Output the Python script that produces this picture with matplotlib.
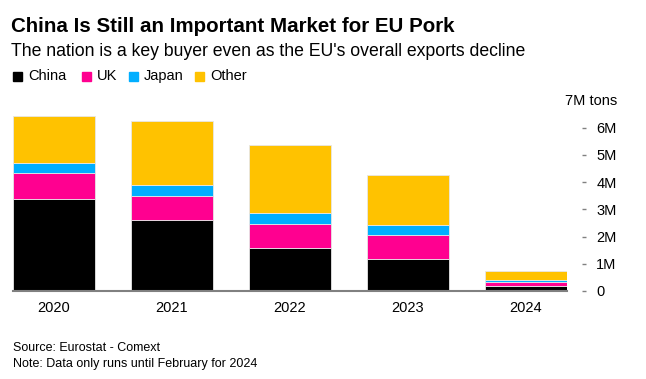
import matplotlib
matplotlib.use("Agg")
import matplotlib.pyplot as plt
from matplotlib.patches import Rectangle

plt.rcParams['font.family'] = ['Liberation Sans', 'DejaVu Sans']

years = ["2020", "2021", "2022", "2023", "2024"]
china = [3.37, 2.60, 1.57, 1.17, 0.195]
uk = [0.96, 0.90, 0.90, 0.90, 0.145]
japan = [0.36, 0.40, 0.40, 0.36, 0.06]
other = [1.74, 2.34, 2.49, 1.83, 0.335]
series_names = ["China", "UK", "Japan", "Other"]
series_colors = ["#000000", "#FF0090", "#00AEFF", "#FFC200"]
y_ticks = [0, 1, 2, 3, 4, 5, 6]
y_ticklabels = ["0", "1M", "2M", "3M", "4M", "5M", "6M"]

W, H = 646, 379
fig = plt.figure(figsize=(W / 100, H / 100), dpi=100)

def fx(px):
    return px / W

def fy(py):
    return 1 - py / H

ax_left, ax_right, ax_bottom, ax_top = 13, 567, 291, 100.6
ax = fig.add_axes([fx(ax_left), fy(ax_bottom), (ax_right - ax_left) / W, (ax_bottom - ax_top) / H])

width = 82 / 118
x = list(range(len(years)))
bottom = [0.0] * len(years)
for vals, name, col in zip([china, uk, japan, other], series_names, series_colors):
    ax.bar(x, vals, width=width, bottom=bottom, color=col, edgecolor="#e6e6e6", linewidth=0.6, label=name)
    bottom = [b + v for b, v in zip(bottom, vals)]

ax.set_xlim(-width / 2, len(years) - 1 + width / 2)
ax.set_ylim(0, 7)
for s in ["top", "left"]:
    ax.spines[s].set_visible(False)
ax.spines["right"].set_position(("outward", 11))
ax.spines["right"].set_visible(False)
ax.spines["bottom"].set_color("#808080")
ax.spines["bottom"].set_linewidth(1.5)
ax.set_xticks(x)
ax.set_xticklabels(years, fontsize=10.5)
ax.tick_params(axis="x", length=0, pad=7)
ax.yaxis.tick_right()
ax.set_yticks(y_ticks)
ax.set_yticklabels(y_ticklabels, fontsize=10.5)
ax.tick_params(axis="y", length=3, width=1, color="#808080", pad=7, direction="out")

fig.text(fx(617), fy(100.6), "7M tons", fontsize=10.5, ha="right", va="center")

fig.text(fx(11), fy(26), "China Is Still an Important Market for EU Pork", fontsize=14.8, fontweight="bold", ha="left", va="center")
fig.text(fx(11), fy(51), "The nation is a key buyer even as the EU's overall exports decline", fontsize=12.7, ha="left", va="center")

leg_x = [13, 82, 129, 195]
for lx, name, col in zip(leg_x, series_names, series_colors):
    fig.patches.append(Rectangle((fx(lx), fy(81)), 9 / W, 9 / H, transform=fig.transFigure, color=col))
    fig.text(fx(lx + 15), fy(76), name, fontsize=10.5, ha="left", va="center")

fig.text(fx(13), fy(348), "Source: Eurostat - Comext", fontsize=9, ha="left", va="center")
fig.text(fx(13), fy(364), "Note: Data only runs until February for 2024", fontsize=9, ha="left", va="center")

fig.savefig("out.png", dpi=100)
